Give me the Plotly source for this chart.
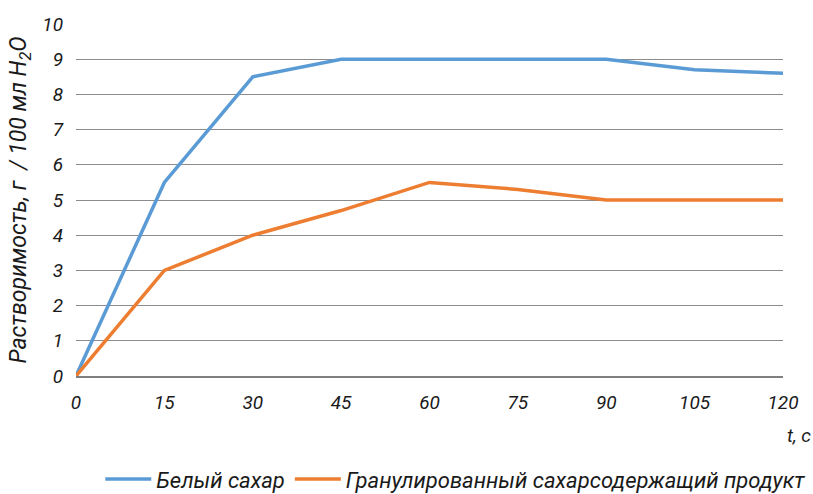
import plotly.graph_objects as go

# Время растворения, с
t_values = [0, 15, 30, 45, 60, 75, 90, 105, 120]
# Растворимость, г / 100 мл H2O
white_sugar = [0, 5.5, 8.5, 9, 9, 9, 9, 8.7, 8.6]
granulated = [0, 3, 4, 4.7, 5.5, 5.3, 5, 5, 5]

series_names = ["Белый сахар", "Гранулированный сахарсодержащий продукт"]
series_colors = ["#5b9bd5", "#ed7d31"]

FONT = "Roboto, Liberation Sans, sans-serif"
TICK_FS = 19

fig = go.Figure()
for name, vals, color in zip(series_names, [white_sugar, granulated], series_colors):
    fig.add_trace(go.Scatter(
        x=t_values, y=vals, name=name, mode="lines",
        line=dict(color=color, width=3.5),
    ))

fig.update_layout(
    width=813, height=494,
    margin=dict(l=76, r=30, t=24, b=118, autoexpand=False),
    paper_bgcolor="white", plot_bgcolor="white",
    font=dict(family=FONT, size=TICK_FS, color="#1a1a1a", style="italic"),
    showlegend=True,
    legend=dict(
        orientation="h", x=0.56, xanchor="center", xref="container",
        y=-0.293, yanchor="middle", yref="paper",
        font=dict(family=FONT, size=22, color="#1a1a1a", style="italic"),
        itemwidth=46, tracegroupgap=0,
    ),
    xaxis=dict(
        range=[0, 120], tickvals=t_values, ticktext=[str(v) for v in t_values],
        showgrid=False, zeroline=False, showline=True, linecolor="#7f7f7f", linewidth=2,
        ticks="", ticklabelstandoff=8,
        tickfont=dict(family=FONT, size=TICK_FS, style="italic"),
    ),
    yaxis=dict(
        range=[0, 10], dtick=1, showgrid=True, gridcolor="#8c8c8c", gridwidth=1,
        zeroline=False, showline=False, ticks="", ticklabelstandoff=12,
        tickfont=dict(family=FONT, size=TICK_FS, style="italic"),
        title=dict(text="Растворимость, г  / 100 мл H<sub>2</sub>O",
                   font=dict(family=FONT, size=23, style="italic"), standoff=9),
    ),
    annotations=[dict(
        text="t, c", x=1.0, xref="paper", xanchor="left", xshift=2,
        y=-0.17, yref="paper", yanchor="middle", showarrow=False,
        font=dict(family=FONT, size=TICK_FS, style="italic"),
    )],
)

fig.write_html("out.html")
